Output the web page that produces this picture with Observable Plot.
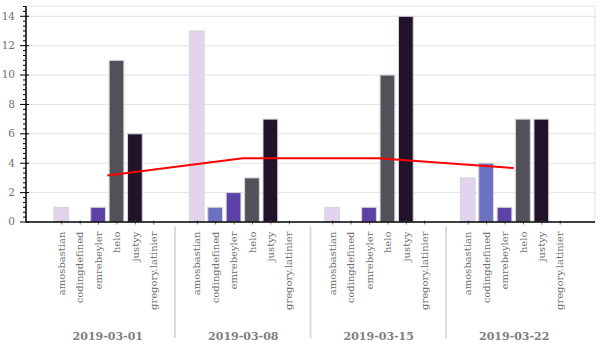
<!DOCTYPE html>
<html><head><meta charset="utf-8">
<script src="https://cdn.jsdelivr.net/npm/d3@7"></script>
<script src="https://cdn.jsdelivr.net/npm/@observablehq/plot@0.6"></script>
<style>body{margin:0;background:#fff} svg{display:block}</style>
</head><body><div id="chart"></div>
<script>
const dates = ["2019-03-01", "2019-03-08", "2019-03-15", "2019-03-22"];
const users = ["amosbastian", "codingdefined", "emrebeyler", "helo", "justyy", "gregory.latinier"];
const userColors = ["#e2d4ed", "#6c72c2", "#5c42a6", "#525059", "#20132a", "#9a9a9a"];
const counts0301 = [1, 0, 1, 11, 6, 0];
const counts0308 = [13, 1, 2, 3, 7, 0];
const counts0315 = [1, 0, 1, 10, 14, 0];
const counts0322 = [3, 4, 1, 7, 7, 0];
const yTicks = [0, 2, 4, 6, 8, 10, 12, 14];
const yMax = 14.7;

const series = [counts0301, counts0308, counts0315, counts0322];
const rows = dates.flatMap((d, i) => users.map((u, j) => ({date: d, user: u, value: series[i][j]})));
const means = dates.map((d, i) => ({date: d, mean: d3.mean(series[i])}));

const chart = Plot.plot({
  width: 600, height: 350,
  marginLeft: 26, marginRight: 5, marginTop: 6, marginBottom: 128,
  style: {fontFamily: "DejaVu Serif", fontSize: "10px", color: "#707070", background: "white", overflow: "visible"},
  fx: {domain: dates, paddingInner: 0, paddingOuter: 0.1, round: false, label: null},
  x: {domain: users, paddingInner: 0.2, paddingOuter: 0.78, round: false, label: null},
  y: {domain: [0, yMax], axis: null},
  color: {domain: users, range: userColors},
  marks: [
    Plot.barY(rows, {filter: d => d.value > 0, fx: "date", x: "user", y: "value", fill: "user", stroke: "#d4d4d8", strokeWidth: 1}),
    Plot.axisX({tickRotate: -90, tickSize: 4, tickPadding: 5, label: null, fontSize: 10}),
    Plot.axisFx({anchor: "bottom", tickSize: 0, tickPadding: 0, dy: 110, label: null, fontWeight: "bold", fontSize: 11, fill: "#808080"})
  ]
});

document.getElementById("chart").appendChild(chart);

const svgSel = d3.select(chart);
svgSel.selectAll('g[aria-label="x-axis tick"]').attr("stroke", "black")
  .attr("transform", function(){ return (this.getAttribute("transform") || "") + " translate(0,-1.5)"; });

const sfx = chart.scale("fx"), sy = chart.scale("y");
const fxS = sfx.apply ? (v => sfx.apply(v)) : d3.scaleBand(sfx.domain, sfx.range).paddingInner(0).paddingOuter(0.1);
const yS = sy.apply ? (v => sy.apply(v)) : d3.scaleLinear(sy.domain, sy.range);
const fxBw = sfx.bandwidth ?? (sfx.range[1] - sfx.range[0]) / 4.2;
const xLeft = sfx.range[0], xRight = sfx.range[1];
const yBottom = yS(0), yTopPx = yS(yMax);

// background: grid + frame
const bg = svgSel.insert("g", "g");
bg.selectAll("line.grid").data(yTicks.filter(t => t > 0)).join("line")
  .attr("x1", xLeft).attr("x2", xRight).attr("y1", yS).attr("y2", yS)
  .attr("stroke", "#e4e4e4").attr("stroke-width", 1);
bg.append("line").attr("x1", xLeft).attr("x2", xRight).attr("y1", yTopPx).attr("y2", yTopPx).attr("stroke", "#e4e4e4");
bg.append("line").attr("x1", xRight).attr("x2", xRight).attr("y1", yTopPx).attr("y2", yBottom).attr("stroke", "#e4e4e4");

// foreground: axes, separators, mean line
const fg = svgSel.append("g");
fg.append("line").attr("x1", xLeft).attr("x2", xRight).attr("y1", yBottom).attr("y2", yBottom).attr("stroke", "black").attr("stroke-width", 1.5);
fg.append("line").attr("x1", xLeft).attr("x2", xLeft).attr("y1", yTopPx).attr("y2", yBottom).attr("stroke", "black").attr("stroke-width", 1.5);
const minor = d3.range(0, Math.floor(yMax * 3) + 1).map(i => i / 3).filter(v => Math.abs(v / 2 - Math.round(v / 2)) > 1e-6);
fg.selectAll("line.minor").data(minor).join("line")
  .attr("x1", xLeft - 3).attr("x2", xLeft).attr("y1", yS).attr("y2", yS).attr("stroke", "black");
fg.selectAll("line.major").data(yTicks).join("line")
  .attr("x1", xLeft - 6).attr("x2", xLeft + 3).attr("y1", yS).attr("y2", yS).attr("stroke", "black");
fg.selectAll("text.ylab").data(yTicks).join("text")
  .attr("x", xLeft - 11).attr("y", yS).attr("dy", "0.32em").attr("text-anchor", "end")
  .attr("fill", "#707070").attr("font-size", 10.5).text(d => d);
fg.selectAll("line.sep").data(dates.slice(1)).join("line")
  .attr("x1", d => fxS(d)).attr("x2", d => fxS(d)).attr("y1", yBottom + 4).attr("y2", yBottom + 116)
  .attr("stroke", "#dcdcdc").attr("stroke-width", 2);
fg.append("path").datum(means)
  .attr("d", d3.line(d => fxS(d.date) + fxBw / 2, d => yS(d.mean)))
  .attr("fill", "none").attr("stroke", "red").attr("stroke-width", 2);
</script></body></html>
